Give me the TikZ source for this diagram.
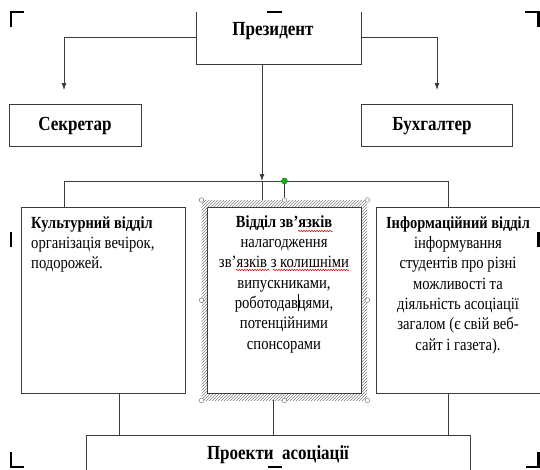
\documentclass[tikz,border=0pt]{standalone}
\usepackage{fontspec}
\setmainfont{Liberation Serif}[FakeStretch=0.85]
\usetikzlibrary{arrows.meta,patterns,decorations.pathmorphing}
\definecolor{ln}{HTML}{3C3C3C}
\newcommand{\hd}[1]{{\fontsize{17}{20.3}\selectfont\bfseries #1}}
\begin{document}
\begin{tikzpicture}[x=1pt,y=-1pt,
 box/.style={draw=ln,line width=0.8pt,fill=white,inner sep=0pt,anchor=north west},
 con/.style={draw=ln,line width=0.8pt},
 arr/.style={con,-{Latex[length=7pt,width=5pt]}},
 txt/.style={inner sep=0pt,font=\fontsize{17.2}{20.3}\selectfont},
 btxt/.style={inner sep=0pt,font=\fontsize{20}{22}\selectfont\bfseries},
 handle/.style={circle,draw=gray,fill=white,inner sep=0pt,minimum size=4.6pt,line width=0.5pt},
 rotdot/.style={circle,draw=black!70,fill=green!75!black,inner sep=0pt,minimum size=6pt,line width=0.4pt},
 cropmark/.style={line width=2.2pt,black},
 squig/.style={red!85!black,line width=0.5pt,decorate,decoration={snake,amplitude=0.7pt,segment length=2.6pt}}]
\useasboundingbox (0,0) rectangle (540,469);
\begin{scope}
\clip (0,12) rectangle (540,469);
% coordinates
\coordinate (secTip) at (64,90);
\coordinate (buhTip) at (437,90);
\coordinate (busL) at (64,181);
\coordinate (busR) at (448,181);
\coordinate (busM) at (262,181);
\coordinate (pL) at (119,435);
\coordinate (pM) at (273,435);
\coordinate (pR) at (448,435);
% boxes
\node[box,minimum width=164.5pt,minimum height=67.7pt] (Pres) at (196,-4) {};
\node[box,minimum width=131.7pt,minimum height=42pt] (Sec) at (9.3,104) {};
\node[box,minimum width=151.5pt,minimum height=42pt] (Buh) at (360.5,104) {};
\node[box,minimum width=164.3pt,minimum height=186pt] (Kul) at (20.7,207) {};
\node[anchor=north west,inner sep=0pt,pattern=north east lines,pattern color=gray,minimum width=165.5pt,minimum height=200pt] (Sel) at (201.5,200) {};
\node[box,minimum width=154pt,minimum height=186pt] (Zv) at (207,207) {};
\node[box,minimum width=170pt,minimum height=186pt] (Inf) at (376,207) {};
\node[box,minimum width=384pt,minimum height=50pt] (Proj) at (86,435) {};
% connectors
\draw[arr] ([yshift=-7pt]Pres.west) -| (secTip);
\draw[arr] ([yshift=-7pt]Pres.east) -| (buhTip);
\draw[arr] (Pres.south -| busM) -- (busM);
\draw[con] (busL) -- (busR);
\draw[con] (busL) -- (Kul.north -| busL);
\draw[con] (busR) -- (Inf.north -| busR);
\draw[con] (busM) -- (Sel.north -| busM);
\draw[con] (Kul.south -| pL) -- (pL);
\draw[con] (Sel.south -| pM) -- (pM);
\draw[con] (Inf.south -| pR) -- (pR);
% texts
\node[btxt,anchor=base] (PresT) at (273,35) {Президент};
\node[btxt,anchor=base] (SecT) at (75,130) {Секретар};
\node[btxt,anchor=base] (BuhT) at (432,130) {Бухгалтер};
\node[txt,anchor=north west,align=left] (KulT) at (31,214) {\rule{0pt}{14pt}\hd{Культурний відділ}\\організація вечірок,\\подорожей.};
\node[txt,anchor=north,align=center] (ZvT) at (284,213) {\rule{0pt}{14pt}\hd{Відділ зв’язків}\\налагодження\\зв’язків з колишніми\\випускниками,\\роботодавцями,\\потенційними\\спонсорами};
\node[txt,anchor=north,align=center] (InfT) at (458,214) {\rule{0pt}{14pt}\hd{Інформаційний відділ}\\інформування\\студентів про різні\\можливості та\\діяльність асоціації\\загалом (є свій веб-\\сайт і газета).};
\node[btxt,anchor=base] (ProjT) at (278,459.5) {Проекти\ \ асоціації};
% spelling marks and cursor
\draw[squig] (298,231) -- (333,231);
\draw[squig] (236,270) -- (269,270);
\draw[squig] (273,270) -- (349,270);
\draw[line width=1pt,black] (298,294) -- (298,311);
% selection handles
\node[rotdot] (Rot) at ([yshift=19pt]Sel.north) {};
\draw[line width=0.6pt,black!80] (Rot) -- (Sel.north);
\foreach \a in {north west,north,north east,west,east,south west,south,south east}
  \node[handle] at (Sel.\a) {};
\end{scope}
% crop marks
\draw[cropmark] (11,27) -- (11,12) -- (24,12);
\draw[cropmark] (267,12) -- (282,12);
\draw[cropmark] (525,12) -- (538.5,12) -- (538.5,27);
\draw[cropmark] (11,232) -- (11,247);
\draw[cropmark] (538.5,232) -- (538.5,247);
\draw[cropmark] (11,452) -- (11,467) -- (24,467);
\draw[cropmark] (268,467) -- (282,467);
\draw[cropmark] (526,467) -- (538.5,467) -- (538.5,452);
\end{tikzpicture}
\end{document}
